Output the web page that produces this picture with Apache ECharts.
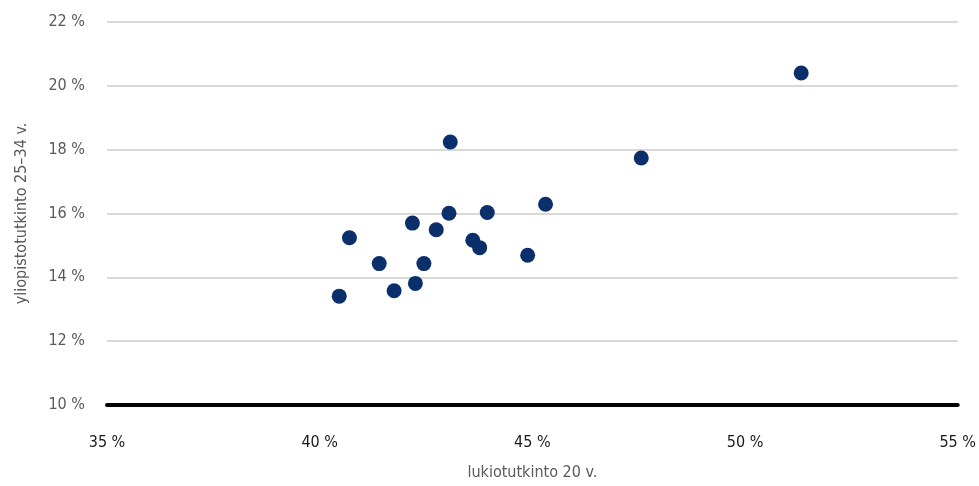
<!DOCTYPE html>
<html><head><meta charset="utf-8">
<script src="https://cdn.jsdelivr.net/npm/echarts@6/dist/echarts.min.js"></script>
<style>html,body{margin:0;padding:0;background:#fff;overflow:hidden}#c{width:979px;height:486px}</style>
</head><body><div id="c"></div>
<script>
// lukiotutkinto 20 v. (%)
var xValues = [43.07, 40.70, 45.31, 43.94, 43.04, 42.18, 42.74, 43.60, 43.76, 44.89, 41.40, 42.45, 42.25, 41.75, 40.46, 47.56, 51.32];
// yliopistotutkinto 25–34 v. (%)
var yValues = [18.24, 15.24, 16.29, 16.03, 16.01, 15.70, 15.49, 15.16, 14.93, 14.69, 14.43, 14.43, 13.81, 13.58, 13.41, 17.74, 20.40];
var xTitle = 'lukiotutkinto 20 v.';
var yTitle = 'yliopistotutkinto 25–34 v.';

var points = xValues.map(function (x, i) { return [x, yValues[i]]; });
var FONT = '"DejaVu Sans Condensed", "Liberation Sans Narrow", "Roboto", sans-serif';

var chart = echarts.init(document.getElementById('c'), null, {renderer: 'canvas'});
chart.setOption({
  animation: false,
  backgroundColor: '#fff',
  grid: {left: 107, right: 20, top: 22, bottom: 76, containLabel: false},
  xAxis: {
    type: 'value', min: 35, max: 55, interval: 5,
    name: xTitle, nameLocation: 'middle', nameGap: 60,
    nameTextStyle: {color: '#595959', fontSize: 16, fontFamily: FONT},
    axisLine: {show: false},
    axisTick: {show: false},
    splitLine: {show: false},
    axisLabel: {formatter: '{value} %', color: '#1a1a1a', fontSize: 16, fontFamily: FONT, margin: 30}
  },
  yAxis: {
    type: 'value', min: 10, max: 22, interval: 2,
    name: yTitle, nameLocation: 'middle', nameGap: 77,
    nameTextStyle: {color: '#595959', fontSize: 16, fontFamily: FONT},
    axisLine: {show: false},
    axisTick: {show: false},
    splitLine: {show: true, lineStyle: {color: '#d9d9d9', width: 2}},
    axisLabel: {formatter: '{value} %', color: '#595959', fontSize: 16, fontFamily: FONT, margin: 22}
  },
  series: [
    {
      type: 'scatter',
      data: points,
      symbolSize: 15,
      itemStyle: {color: '#0b2f6b', opacity: 1},
      z: 3,
      markLine: {
        silent: true, symbol: 'none', label: {show: false},
        lineStyle: {color: '#000', width: 4, type: 'solid', cap: 'round'},
        data: [{yAxis: 10}],
        z: 2
      }
    }
  ]
});
</script></body></html>
